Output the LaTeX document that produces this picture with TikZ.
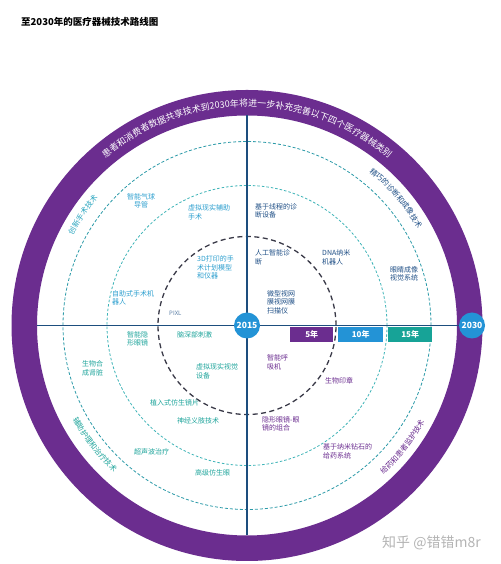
\documentclass[tikz,border=0pt]{standalone}
\usepackage{fontspec}
\setmainfont{Noto Sans CJK SC}
\usetikzlibrary{calc,decorations.text}
\definecolor{ringpurple}{HTML}{6B2D8F}
\definecolor{navy}{HTML}{1D4E7E}
\definecolor{bluec}{HTML}{2393D6}
\definecolor{tealbox}{HTML}{17A397}
\definecolor{ulcol}{HTML}{2C9FCF}
\definecolor{urcol}{HTML}{1F4F86}
\definecolor{llcol}{HTML}{1FA59C}
\definecolor{lrcol}{HTML}{6B2D90}
\definecolor{ulring}{HTML}{2AA6C0}
\definecolor{outdash}{HTML}{2B9AA8}
\definecolor{middash}{HTML}{3EB4B8}
\definecolor{indash}{HTML}{3A3A48}
\definecolor{pixlcol}{HTML}{5B7FA6}
\definecolor{wmgray}{HTML}{B4B4B4}
\tikzset{
  lab/.style={font=\fontsize{7}{8.5}\selectfont, inner sep=0pt, align=left, anchor=west},
  yrbox/.style={minimum width=43pt, minimum height=15pt, inner sep=0pt, anchor=north west, text=white, font=\bfseries\fontsize{8}{8}\selectfont},
  yearc/.style={circle, fill=bluec, minimum size=26pt, inner sep=0pt, text=white, font=\bfseries\fontsize{8.5}{8.5}\selectfont},
  axis/.style={navy, line width=1.8pt}
}
\begin{document}
\begin{tikzpicture}[x=1pt,y=1pt]
\useasboundingbox (0,0) rectangle (500,564);
\fill[white] (0,0) rectangle (500,564);
\coordinate (C) at (247,238.5);
% outer ring
\fill[ringpurple, even odd rule] (C) circle (235.5pt) (C) circle (210pt);
% dashed circles
\draw[outdash, line width=0.8pt, dash pattern=on 3pt off 2pt] (C) circle (184pt);
\draw[middash, line width=0.8pt, dash pattern=on 2.5pt off 2pt] (C) circle (140pt);
\draw[indash, line width=1.3pt, dash pattern=on 5pt off 3.5pt] (C) circle (89pt);
% axes
\coordinate (axL) at ($(C)+(-210pt,0)$);
\coordinate (axT) at ($(C)+(0,210pt)$);
\coordinate (axB) at ($(C)+(0,-210pt)$);
\node[yearc] (y2030) at (472,238.5) {2030};
\draw[axis] (axT) -- (axB);
\draw[axis] (axL) -- (y2030.west);
\node[yearc] (y2015) at (C) {2015};
\node[yrbox, fill=ringpurple] (b5) at (290,237.5) {5年};
\node[yrbox, fill=bluec, minimum width=45pt] (b10) at (338,237.5) {10年};
\node[yrbox, fill=tealbox, minimum width=44pt] (b15) at (388,237.5) {15年};
% ring text
\path[decorate, decoration={text along path, text align=center, text color=white,
  text={|\fontsize{9}{9}\selectfont|患者和消费者数据共享技术到2030年将进一步补充完善以下四个医疗器械类别}}]
  ($(C)+(170:219pt)$) arc[start angle=170, end angle=10, radius=219pt];
% quadrant titles
\path[decorate, decoration={text along path, text align=center, text color=ulring,
  text={|\fontsize{7.5}{7.5}\selectfont|创新手术技术}}]
  ($(C)+(176:196pt)$) arc[start angle=176, end angle=116, radius=196pt];
\path[decorate, decoration={text along path, text align=center, text color=urcol,
  text={|\fontsize{7.5}{7.5}\selectfont|精巧的诊断和成像技术}}]
  ($(C)+(70:196pt)$) arc[start angle=70, end angle=11, radius=196pt];
\path[decorate, decoration={text along path, text align=center, text color=lrcol,
  text={|\fontsize{7.5}{7.5}\selectfont|给药和患者监护技术}}]
  ($(C)+(-68:202pt)$) arc[start angle=-68, end angle=-8, radius=202pt];
\path[decorate, decoration={text along path, text align=center, text color=llcol,
  text={|\fontsize{7.5}{7.5}\selectfont|辅助护理和治疗技术}}]
  ($(C)+(188:198pt)$) arc[start angle=188, end angle=248, radius=198pt];
% upper-left labels
\node[lab, text=ulcol, align=center, anchor=center] (g1) at (141,363) {智能气球\\导管};
\node[lab, text=ulcol] (g2) at (188,351.5) {虚拟现实辅助\\手术};
\node[lab, text=ulcol] (g3) at (197,296.5) {3D打印的手\\术计划模型\\和仪器};
\node[lab, text=ulcol] (g4) at (112,266) {自助式手术机\\器人};
\node[lab, text=pixlcol, font=\fontsize{6}{6}\selectfont] (g5) at (169,251) {PIXL};
% upper-right labels
\node[lab, text=urcol] (u1) at (255,353) {基于线程的诊\\断设备};
\node[lab, text=urcol] (u2) at (255,306.5) {人工智能诊\\断};
\node[lab, text=urcol] (u3) at (322,306.5) {DNA纳米\\机器人};
\node[lab, text=urcol] (u4) at (390,290) {眼睛成像\\视觉系统};
\node[lab, text=urcol] (u5) at (267,262) {微型视网\\膜视网膜\\扫描仪};
% lower-left labels
\node[lab, text=llcol] (t1) at (127,225) {智能隐\\形眼镜};
\node[lab, text=llcol] (t2) at (177,229) {脑深部刺激};
\node[lab, text=llcol] (t3) at (82,195.5) {生物合\\成肾脏};
\node[lab, text=llcol] (t4) at (196,192.5) {虚拟现实视觉\\设备};
\node[lab, text=llcol] (t5) at (150,161) {植入式仿生镜片};
\node[lab, text=llcol] (t6) at (177,143) {神经义肢技术};
\node[lab, text=llcol] (t7) at (134,112) {超声波治疗};
\node[lab, text=llcol] (t8) at (195,91) {高级仿生眼};
% lower-right labels
\node[lab, text=lrcol] (p1) at (267,201.5) {智能呼\\吸机};
\node[lab, text=lrcol] (p2) at (325,183) {生物印章};
\node[lab, text=lrcol] (p3) at (262,140) {隐形眼镜-眼\\镜的组合};
\node[lab, text=lrcol] (p4) at (323,112.5) {基于纳米钻石的\\给药系统};
% title and watermark
\node[anchor=west, inner sep=0pt, font=\bfseries\fontsize{9.5}{9.5}\selectfont] (title) at (21,542) {至2030年的医疗器械技术路线图};
\node[anchor=west, inner sep=0pt, text=wmgray, font=\fontsize{14}{14}\selectfont] (wm) at (382,21) {知乎 @错错m8r};
\end{tikzpicture}
\end{document}
